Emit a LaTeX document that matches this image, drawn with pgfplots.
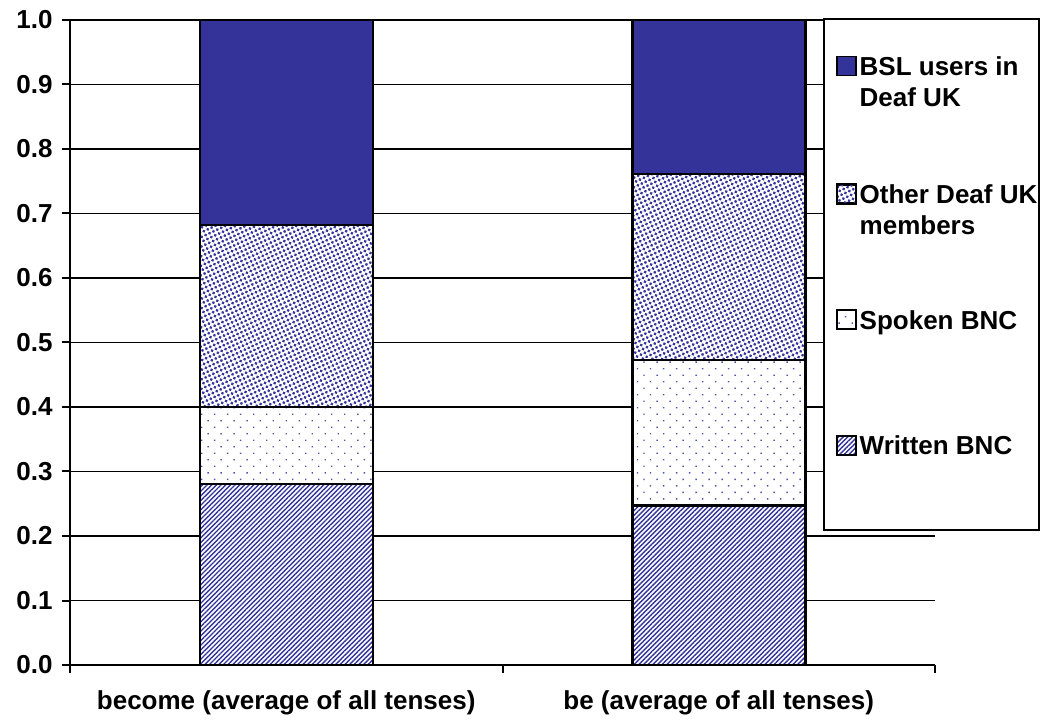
\documentclass[border=0pt]{standalone}
\usepackage{fontspec}
\setmainfont{Liberation Sans}
\usepackage{pgfplots}
\pgfplotsset{compat=1.18}
\usetikzlibrary{patterns.meta}
\definecolor{bslblue}{HTML}{333399}
\newcommand{\bigbf}{\bfseries\fontsize{26}{31}\selectfont}
\begin{document}
\begin{tikzpicture}
\begin{axis}[
  name=ax,
  scale only axis, width=865pt, height=645pt,
  xmin=-0.5, xmax=1.5, ymin=0, ymax=1,
  axis lines*=left,
  axis line style={line width=2.5pt},
  ybar stacked, bar width=0.4,
  xtick={-0.5,0.5,1.5}, xticklabels={},
  extra x ticks={0,1},
  extra x tick labels={become (average of all tenses),be (average of all tenses)},
  extra x tick style={major tick length=0pt, grid=none},
  ytick={0,0.1,0.2,0.3,0.4,0.5,0.6,0.7,0.8,0.9,1.0},
  ymajorgrids, grid style={black, line width=1.6pt},
  tick style={black, line width=2pt},
  tick align=outside, major tick length=8pt,
  yticklabel style={xshift=-6pt, /pgf/number format/fixed, /pgf/number format/fixed zerofill, /pgf/number format/precision=1, /pgf/number format/assume math mode=true},
  xticklabel style={yshift=-22pt},
  tick label style={font=\bigbf},
  reverse legend,
  legend style={at={(0.8705,1.0031)}, anchor=north west, draw=black, line width=2pt,
    fill=white, inner xsep=2pt, inner ysep=35pt, row sep=66pt, column sep=3pt,
    font=\bigbf, nodes={inner sep=0pt, text depth=40pt}, cells={anchor=base west}},
  myleg/.style={legend image code/.code={
    \pgfpathmoveto{\pgfqpoint{-11pt}{0pt}}\pgfusepath{}%
    \draw[##1, draw=black, line width=1.4pt] (0pt,0pt) rectangle (19pt,19pt);}},
]
\addplot[draw=black, line width=2.5pt, preaction={fill=white},
  pattern={Lines[angle=45,distance=3.3pt,line width=1.4pt]}, pattern color=bslblue, myleg]
  coordinates {(0,0.281) (1,0.247)};
\addlegendentry{Written BNC}
\addplot[draw=black, line width=2.5pt, preaction={fill=white},
  pattern={Dots[distance=9.2pt,angle=45,radius=1pt]}, pattern color=bslblue!85, myleg]
  coordinates {(0,0.119) (1,0.226)};
\addlegendentry{Spoken BNC}
\addplot[draw=black, line width=2.5pt, preaction={fill=white},
  pattern={Dots[distance=4.3pt,angle=25,radius=1.6pt]}, pattern color=bslblue, myleg]
  coordinates {(0,0.282) (1,0.288)};
\addlegendentry{\begin{tabular}[t]{@{}l@{}}Other Deaf UK\\members\end{tabular}}
\addplot[draw=black, line width=2.5pt, fill=bslblue, myleg]
  coordinates {(0,0.318) (1,0.239)};
\addlegendentry{\begin{tabular}[t]{@{}l@{}}BSL users in\\Deaf UK\end{tabular}}
\end{axis}
\pgfresetboundingbox
\path[use as bounding box] ([shift={(-70pt,-55pt)}]ax.south west) rectangle ([shift={(979pt,665pt)}]ax.south west);
\end{tikzpicture}
\end{document}
